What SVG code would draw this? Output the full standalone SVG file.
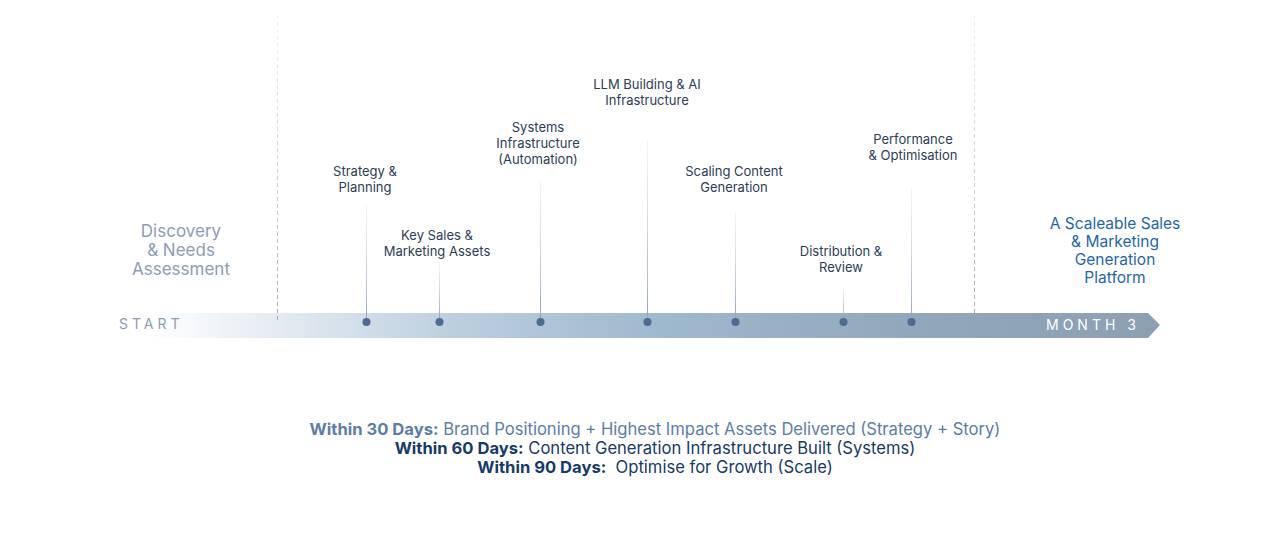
<svg xmlns="http://www.w3.org/2000/svg" width="1280" height="539" viewBox="0 0 1280 539">
<defs>
<linearGradient id="barGrad" x1="150" y1="0" x2="1160" y2="0" gradientUnits="userSpaceOnUse">
<stop offset="0" stop-color="#ffffff"/>
<stop offset="0.15" stop-color="#dfe7ef"/>
<stop offset="0.3" stop-color="#bccfdf"/>
<stop offset="0.5" stop-color="#9fb9ce"/>
<stop offset="0.75" stop-color="#91a7bc"/>
<stop offset="1" stop-color="#8d9fb3"/>
</linearGradient>
<linearGradient id="stemGrad" x1="0" y1="0" x2="0" y2="1">
<stop offset="0" stop-color="#c5d0dc" stop-opacity="0.2"/>
<stop offset="1" stop-color="#8fa3bb"/>
</linearGradient>
<linearGradient id="dashGrad" x1="0" y1="15" x2="0" y2="322" gradientUnits="userSpaceOnUse">
<stop offset="0" stop-color="#d0d0d0" stop-opacity="0.3"/>
<stop offset="1" stop-color="#a8a8a8"/>
</linearGradient>
</defs>
<style>
.lbl{font-family:Inter,"Liberation Sans",sans-serif;font-size:13px;fill:#2c3d57;text-anchor:middle}
.disc{font-family:Inter,"Liberation Sans",sans-serif;font-size:17px;fill:#8d9db5;text-anchor:middle}
.goal{font-family:Inter,"Liberation Sans",sans-serif;font-size:15.5px;fill:#1f66a8;text-anchor:middle}
.cap{font-family:Inter,"Liberation Sans",sans-serif;font-size:14px;letter-spacing:4px}
.bot{font-family:Inter,"Liberation Sans",sans-serif;font-size:16.6px;text-anchor:middle;white-space:pre}
.dash{stroke-width:1;stroke-dasharray:4 3;fill:none}
.dot{fill:#4e6a8e}
</style>

<g id="timeline-bar">
<path d="M150 313 H1148 L1160 325 L1148 338 H150 Z" fill="url(#barGrad)"/>
<text class="cap" x="119" y="329" fill="#8d9db5">START</text>
<text class="cap" x="1046" y="330" fill="#ffffff">MONTH 3</text>
</g>

<g id="connectors">
<line class="dash" x1="277.5" y1="15" x2="277.5" y2="322" stroke="url(#dashGrad)"/>
<line class="dash" x1="974.5" y1="15" x2="974.5" y2="313" stroke="url(#dashGrad)"/>
<rect x="366" y="205" width="1" height="117" fill="url(#stemGrad)"/>
<rect x="439" y="262" width="1" height="60" fill="url(#stemGrad)"/>
<rect x="540" y="180" width="1" height="142" fill="url(#stemGrad)"/>
<rect x="647" y="140" width="1" height="182" fill="url(#stemGrad)"/>
<rect x="735" y="212" width="1" height="110" fill="url(#stemGrad)"/>
<rect x="843" y="287" width="1" height="35" fill="url(#stemGrad)"/>
<rect x="911" y="188" width="1" height="134" fill="url(#stemGrad)"/>
</g>

<g id="discovery">
<text class="disc" x="181" y="237">Discovery</text>
<text class="disc" x="181" y="256">&amp; Needs</text>
<text class="disc" x="181" y="275">Assessment</text>
</g>

<g id="strategy">
<text class="lbl" x="365" y="176">Strategy &amp;</text>
<text class="lbl" x="365" y="192">Planning</text>
<circle class="dot" cx="366.5" cy="322" r="4"/>
</g>

<g id="key-sales">
<text class="lbl" x="437" y="240">Key Sales &amp;</text>
<text class="lbl" x="437" y="256">Marketing Assets</text>
<circle class="dot" cx="439.5" cy="322" r="4"/>
</g>

<g id="systems">
<text class="lbl" x="538" y="132">Systems</text>
<text class="lbl" x="538" y="148">Infrastructure</text>
<text class="lbl" x="538" y="164">(Automation)</text>
<circle class="dot" cx="540.5" cy="322" r="4"/>
</g>

<g id="llm">
<text class="lbl" x="647" y="89">LLM Building &amp; AI</text>
<text class="lbl" x="647" y="105">Infrastructure</text>
<circle class="dot" cx="647.5" cy="322" r="4"/>
</g>

<g id="scaling">
<text class="lbl" x="734" y="176">Scaling Content</text>
<text class="lbl" x="734" y="192">Generation</text>
<circle class="dot" cx="735.5" cy="322" r="4"/>
</g>

<g id="distribution">
<text class="lbl" x="841" y="256">Distribution &amp;</text>
<text class="lbl" x="841" y="272">Review</text>
<circle class="dot" cx="843.5" cy="322" r="4"/>
</g>

<g id="performance">
<text class="lbl" x="913" y="144">Performance</text>
<text class="lbl" x="913" y="160">&amp; Optimisation</text>
<circle class="dot" cx="911.5" cy="322" r="4"/>
</g>

<g id="goal">
<text class="goal" x="1115" y="229">A Scaleable Sales</text>
<text class="goal" x="1115" y="247">&amp; Marketing</text>
<text class="goal" x="1115" y="265">Generation</text>
<text class="goal" x="1115" y="283">Platform</text>
</g>

<g id="summary">
<text class="bot" x="655" y="435" fill="#5b7ea6"><tspan font-weight="700">Within 30 Days:</tspan> Brand Positioning + Highest Impact Assets Delivered (Strategy + Story)</text>
<text class="bot" x="655" y="454" fill="#173a68"><tspan font-weight="700">Within 60 Days:</tspan> Content Generation Infrastructure Built (Systems)</text>
<text class="bot" x="655" y="473" fill="#173a68"><tspan font-weight="700">Within 90 Days:</tspan>  Optimise for Growth (Scale)</text>
</g>
</svg>
